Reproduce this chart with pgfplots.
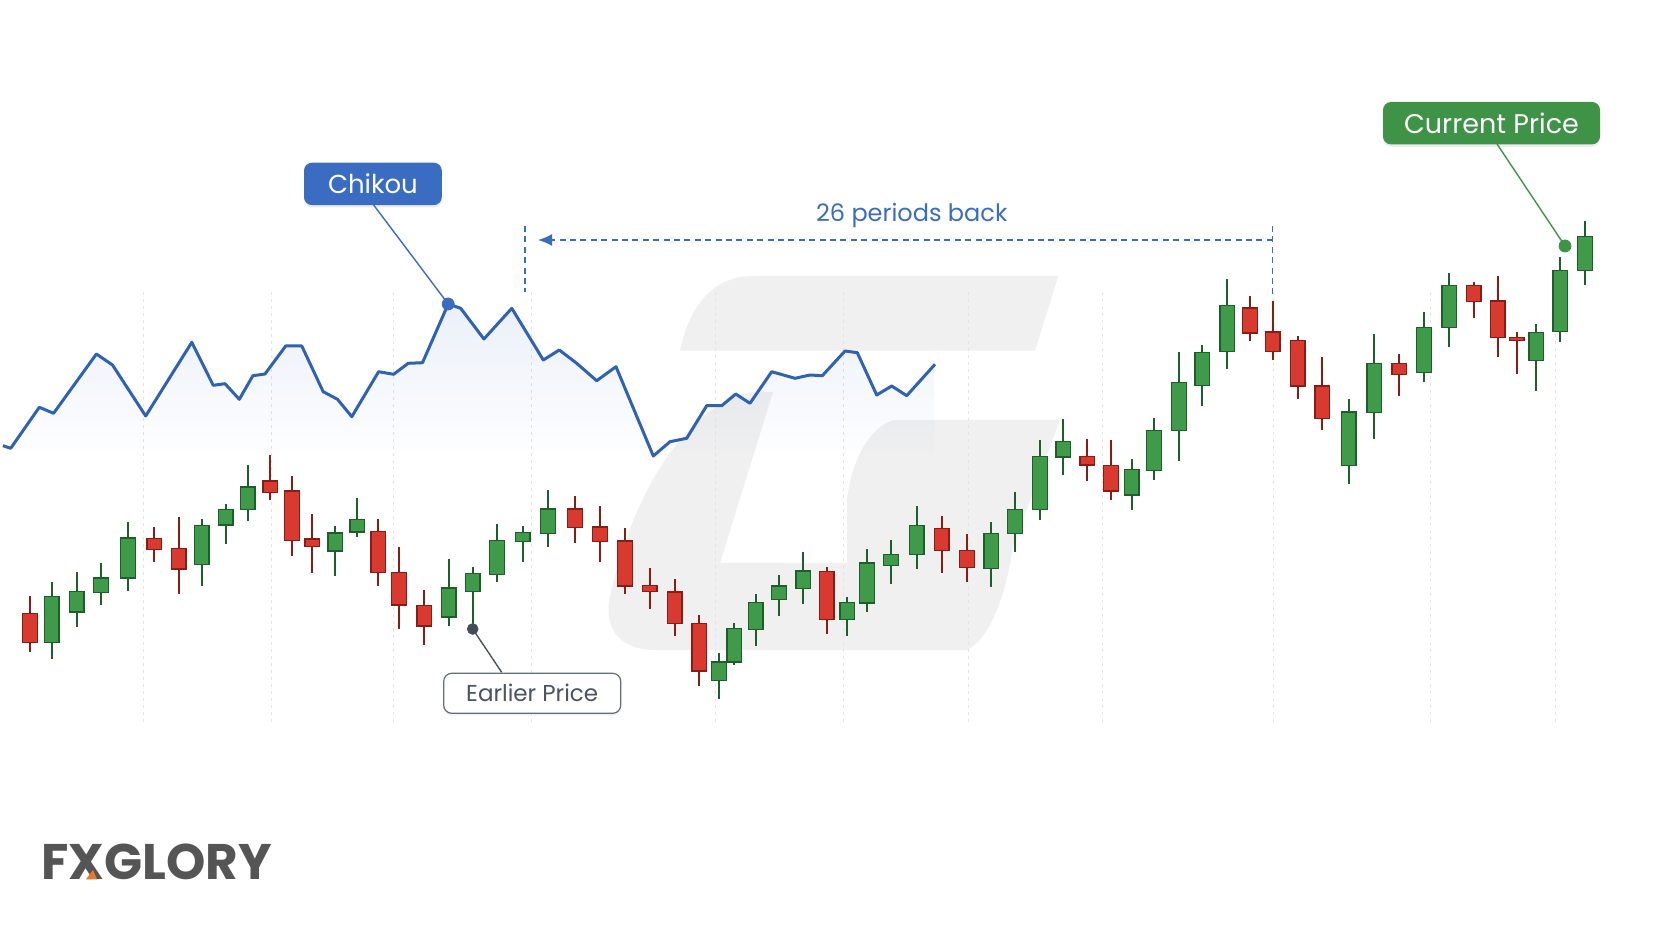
\documentclass[border=0pt]{standalone}
\usepackage{fontspec}
\setmainfont{Poppins}
\usepackage{pgfplots}
\pgfplotsset{compat=1.18}
\usepackage{pgfplotstable}
\usetikzlibrary{arrows.meta,shadows,fadings}

\definecolor{gfill}{HTML}{3F9B4A}
\definecolor{gedge}{HTML}{1E5E2A}
\definecolor{rfill}{HTML}{D93A2F}
\definecolor{redge}{HTML}{8A1C16}
\definecolor{cblue}{HTML}{2F62B2}
\definecolor{lblue}{HTML}{3A6DC1}
\definecolor{lgreen}{HTML}{3F9347}
\definecolor{slate}{HTML}{4A5361}
\definecolor{wm}{HTML}{F0F0F0}
\definecolor{logo}{HTML}{555555}
\definecolor{orng}{HTML}{E8782A}

% candles: x  open  high  low  close
\pgfplotstableread{
x o h l c
51.7 285.7 346.3 269 331.3
76.7 316 355.7 301.3 336.7
101 335.7 365.3 323.3 350
128 350 406.3 336.7 390
201.7 363.3 409 342.3 402.7
225.7 403 424.3 383.7 418.7
247.7 418.7 463 406.7 441
335.3 377 401.7 351.7 395
357.3 396 430 390.7 408.3
448.7 311 368.7 302 340
472.7 336.3 361 299 354.7
497 353.7 403.7 346 387.3
522.7 386.3 401.7 365.7 395.7
548 394.3 437.7 381 419
719 247.7 274.7 228.7 266
734.3 266 305.3 262.7 299.3
755.7 298.7 334.3 282.3 325.3
779 328.7 353.3 312.3 342
803.3 339.7 376.3 323.7 357
847.3 308.7 330.7 291.7 325.3
867 325 378.7 316.3 365
891 362.3 388.3 344 373.3
916.7 373.3 422.3 358.7 402.3
991.3 359.3 406.3 341.3 394.3
1015 394.3 436.3 376.3 418.3
1040 418.3 488.3 407.7 471.3
1063.3 471 508.7 453.3 486.7
1131.7 433 469.3 417.7 458.7
1154 457.3 509.7 448.3 497.3
1179 497.3 576.3 467 545.3
1202.3 542.3 582.7 521.7 575.7
1227.3 576.3 648.7 559 622.3
1348.7 462.7 529.3 444 516
1374.3 515.7 593.7 489.3 564.3
1424 555.7 616.3 546 600.7
1449.3 600.7 654.7 581.3 642.3
1536.3 567.3 604 537 595.7
1560.3 596.3 670.7 585.7 657.3
1585 657.7 706.7 643 691.7
}\greentab

\pgfplotstableread{
x o h l c
30 314.7 332.3 276.3 285.7
154.3 389.7 401.3 365.7 378.3
178.7 379.7 410.7 333.7 359
270.3 447 473 427.7 435.7
292 437 452.3 372.3 387.3
312.3 389 414 354.7 381.3
378.3 396.7 409.3 342.3 355.3
399 355.3 380.7 298.7 323
424.3 322.7 337.7 283.3 302
575 419 432.3 385 400.3
600 401 422.3 365.7 386.3
625 387 399.7 333.7 342
649.7 342.3 359.7 319 336.3
674.7 336 348.7 292 304.3
699.3 304.3 313.3 242 257
826.7 356.3 361.3 293.7 308.3
941.7 399.7 412.3 354.7 377.3
967 377.3 394 346 360.7
1087.3 471.3 488.7 447 463
1111 462.7 488 427.7 437
1250 620 632.3 586.7 595
1272.7 596 627 568 576.3
1297.7 587.7 592 528.7 542
1322.3 542 570.7 498 509.7
1399.3 564.3 574 532.3 553.7
1473.7 642.7 645.7 610 626.7
1497.7 627 652.3 571 590.7
1516.7 590.3 595.7 553.7 587.7
}\redtab

\pgfplotstableread{
x y
2.9 482.3
10.7 479.7
39.3 520.7
53.6 514.7
96.4 574
112.5 563
145.7 512
191.8 585.7
213.2 542.7
225 544.3
239.3 528.7
252.9 552.3
265 554
285.7 582
301.8 582
323.2 536.3
337.5 528.7
351.8 511.3
378.6 556.3
393.6 553.7
408.2 564.7
422.5 565.3
448.2 624
460.7 619.7
483.9 589
511.8 619.7
543.3 568
559.3 578
576.7 564.7
596.7 547.3
616 561.3
653.3 472
670 486.3
686.7 489.7
706.7 522.3
721.7 522.3
735.7 534
750 524.7
771.7 556.3
795 549.7
810 553
822.3 552.3
845 577
857.3 575.3
876.7 533
891.7 542
906.7 532.3
935 563.7
}\chikou

\pgfplotsset{base/.style={scale only axis, width=832pt, height=464pt,
  xmin=0, xmax=1664, ymin=0, ymax=928, hide axis, clip=false,
  at={(0,0)}, anchor=south west}}

\begin{document}
\begin{tikzpicture}
% ---------------- background, watermark, line, wicks
\begin{axis}[base]
\fill[white] (axis cs:0,0) rectangle (axis cs:1664,928);
% watermark "G"
\fill[wm] (axis cs:680,577.3) .. controls (axis cs:690,625) and (axis cs:715,652) .. (axis cs:753.3,652)
  -- (axis cs:1058.3,652) -- (axis cs:1035,577.3) -- cycle;
\fill[wm] (axis cs:773,536) -- (axis cs:753,536)
  .. controls (axis cs:700,528) and (axis cs:640,458) .. (axis cs:612,340)
  .. controls (axis cs:600,300) and (axis cs:620,278) .. (axis cs:655,278)
  -- (axis cs:967,278)
  .. controls (axis cs:990,290) and (axis cs:1005,330) .. (axis cs:1013,381)
  -- (axis cs:1060,508) -- (axis cs:893,508)
  .. controls (axis cs:870,500) and (axis cs:852,470) .. (axis cs:847,428)
  -- (axis cs:847,365) -- (axis cs:720,365) -- cycle;
% faint dotted grid
\pgfplotsinvokeforeach{143,271,393,531,715,843,968,1102,1273,1430,1555}{
  \draw[black!11, dash pattern=on 1.5pt off 2pt, line width=0.4pt] (axis cs:#1,206) -- (axis cs:#1,636);
}
% Chikou glow (transparent fade)
\addplot[draw=none, fill=lblue, fill opacity=0.10, path fading=south, forget plot]
  table[x=x,y=y] {\chikou} -- (axis cs:935,470) -- (axis cs:2.9,470) -- cycle;
\addplot[cblue, line width=1.5pt, line join=round, mark=none] table[x=x,y=y] {\chikou};
% dashed "26 periods back"
\draw[lblue, line width=0.75pt, dash pattern=on 3pt off 2.2pt] (axis cs:525,702) -- (axis cs:525,636);
\draw[lblue, line width=0.75pt, dash pattern=on 3pt off 2.2pt] (axis cs:1272.7,702) -- (axis cs:1272.7,631);
\draw[lblue, line width=0.75pt, dash pattern=on 3pt off 2.2pt, -{Latex[length=7pt,width=6pt]}] (axis cs:1272.7,688) -- (axis cs:538,688);
\node[text=lblue, font=\fontsize{12}{14}\selectfont] at (axis cs:911.7,713) {26 periods back};
% wicks
\addplot[draw=none, mark=none, forget plot,
  error bars/.cd, y dir=both, y explicit, error mark=none,
  error bar style={line width=1.1pt, draw=gedge, solid}]
  table[x=x, y=c, y error plus expr=\thisrow{h}-\thisrow{c}, y error minus expr=\thisrow{c}-\thisrow{l}] {\greentab};
\addplot[draw=none, mark=none, forget plot,
  error bars/.cd, y dir=both, y explicit, error mark=none,
  error bar style={line width=1.1pt, draw=redge, solid}]
  table[x=x, y=o, y error plus expr=\thisrow{h}-\thisrow{o}, y error minus expr=\thisrow{o}-\thisrow{l}] {\redtab};
\end{axis}
% ---------------- green bodies
\begin{axis}[base, ybar stacked, bar width=7.25pt]
\addplot[draw=none, fill=none] table[x=x, y=o] {\greentab};
\addplot[fill=gfill, draw=gedge, line width=0.7pt] table[x=x, y expr=\thisrow{c}-\thisrow{o}] {\greentab};
\end{axis}
% ---------------- red bodies
\begin{axis}[base, ybar stacked, bar width=7.25pt]
\addplot[draw=none, fill=none] table[x=x, y=c] {\redtab};
\addplot[fill=rfill, draw=redge, line width=0.7pt] table[x=x, y expr=\thisrow{o}-\thisrow{c}] {\redtab};
\end{axis}
% ---------------- annotations
\begin{axis}[base]
\addplot[lblue, line width=0.7pt, mark=none] coordinates {(373.5,723.2) (448.2,624)};
\addplot[only marks, mark=*, mark size=3pt, lblue, mark options={draw=lblue, fill=lblue}] coordinates {(448.2,624)};
\node[fill=lblue, text=white, rounded corners=4pt, minimum width=68.9pt, minimum height=21.2pt, inner sep=0pt,
  drop shadow={shadow xshift=0pt, shadow yshift=-1.2pt, opacity=0.15},
  font=\fontsize{13}{15}\selectfont] at (axis cs:372.9,744.1) {Chikou};

\addplot[slate, line width=0.7pt, mark=none] coordinates {(472.7,299) (501.7,255.7)};
\addplot[only marks, mark=*, mark size=2.7pt, mark options={draw=slate, fill=slate!90!black}] coordinates {(472.7,299)};
\node[fill=white, draw=slate!85, line width=0.6pt, text=slate, rounded corners=4pt, minimum width=88.5pt, minimum height=20pt, inner sep=0pt,
  drop shadow={shadow xshift=0pt, shadow yshift=-1.2pt, opacity=0.10},
  font=\fontsize{11.5}{14}\selectfont] at (axis cs:532.2,234.7) {Earlier Price};

\addplot[lgreen, line width=0.7pt, mark=none] coordinates {(1497,784) (1565,682)};
\addplot[only marks, mark=*, mark size=3pt, mark options={draw=lgreen, fill=lgreen}] coordinates {(1565,682)};
\node[fill=lgreen, text=white, rounded corners=4pt, minimum width=108.5pt, minimum height=21.2pt, inner sep=0pt,
  drop shadow={shadow xshift=0pt, shadow yshift=-1.2pt, opacity=0.15},
  font=\fontsize{13.5}{16}\selectfont] at (axis cs:1491.5,804.8) {Current Price};

% logo
\node[anchor=base west, inner sep=0pt, text=logo, font=\fontsize{25}{28}\selectfont\bfseries] at (axis cs:40.7,48.7) {FXGLORY};
\fill[orng] (axis cs:86,48.7) -- (axis cs:97,48.7) -- (axis cs:93,58) -- cycle;
\end{axis}
\end{tikzpicture}
\end{document}
